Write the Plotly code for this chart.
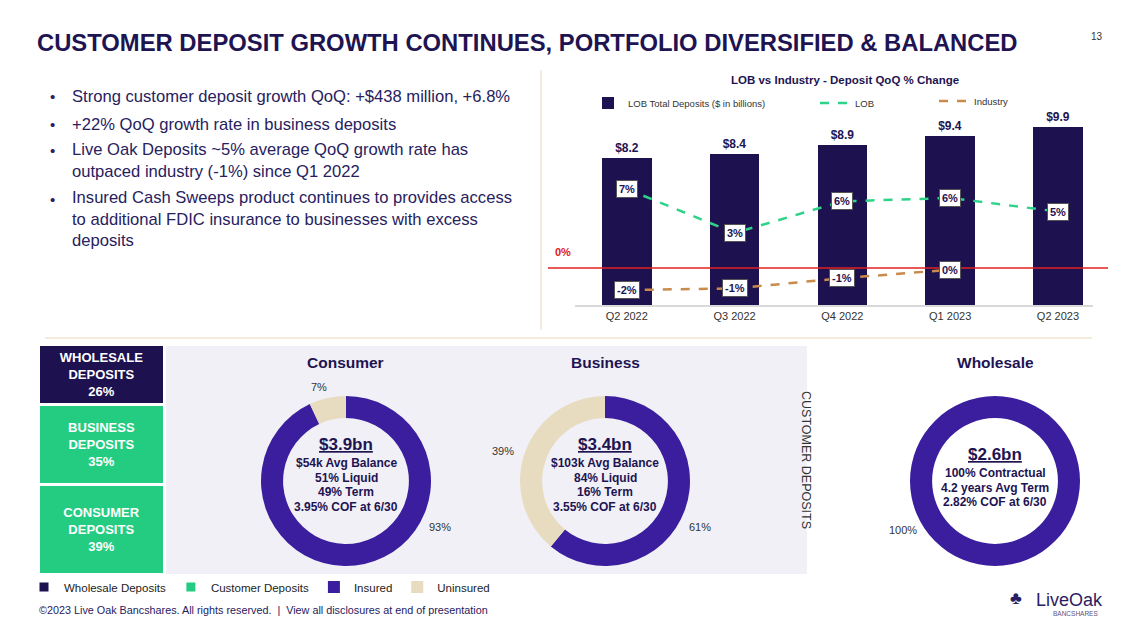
import plotly.graph_objects as go

W, H = 1137, 634
FONT = "Liberation Sans, Arial, sans-serif"
NAVY = "#1e1452"
BAR_NAVY = "#1d1150"
GREEN = "#23cc80"
PURPLE = "#3a1e9e"
BEIGE = "#e8dcc0"
TEXT = "#27215e"

# --- data -------------------------------------------------------------
quarters = ["Q2 2022", "Q3 2022", "Q4 2022", "Q1 2023", "Q2 2023"]
lob_deposits = [8.2, 8.4, 8.9, 9.4, 9.9]
lob_qoq = [7.0, 3.1, 5.9, 6.2, 5.0]
lob_qoq_text = ["7%", "3%", "6%", "6%", "5%"]
industry_quarters = ["Q2 2022", "Q3 2022", "Q4 2022", "Q1 2023"]
industry_qoq = [-1.95, -1.8, -0.9, -0.15]
industry_qoq_text = ["-2%", "-1%", "-1%", "0%"]

mix_names = ["CONSUMER<br>DEPOSITS", "BUSINESS<br>DEPOSITS", "WHOLESALE<br>DEPOSITS"]
mix_values = [39, 35, 26]

insured_labels = ["Insured", "Uninsured"]
consumer_split = [93, 7]
business_split = [61, 39]
wholesale_split = [100, 0]

consumer_total = "$3.9bn"
consumer_lines = ["$54k Avg Balance", "51% Liquid", "49% Term", "3.95% COF at 6/30"]
business_total = "$3.4bn"
business_lines = ["$103k Avg Balance", "84% Liquid", "16% Term", "3.55% COF at 6/30"]
wholesale_total = "$2.6bn"
wholesale_lines = ["100% Contractual", "4.2 years Avg Term", "2.82% COF at 6/30"]

bullets = [
    "Strong customer deposit growth QoQ: +$438 million, +6.8%",
    "+22% QoQ growth rate in business deposits",
    "Live Oak Deposits ~5% average QoQ growth rate has<br>outpaced industry (-1%) since Q1 2022",
    "Insured Cash Sweeps product continues to provides access<br>to additional FDIC insurance to businesses with excess<br>deposits",
]


def px(x):
    return x / W


def py(y):
    return 1 - y / H


fig = go.Figure()

# --- LOB bar + line chart --------------------------------------------
fig.add_trace(go.Bar(
    x=quarters, y=lob_deposits, name="LOB Total Deposits ($ in billions)",
    marker=dict(color=BAR_NAVY, line=dict(width=0)), width=0.46,
    texttemplate="$%{y:.1f}", textposition="outside", cliponaxis=False,
    textfont=dict(family=FONT, size=12, color=NAVY, weight="bold"),
    legend="legend5", showlegend=True, xaxis="x", yaxis="y",
))
fig.add_trace(go.Scatter(
    x=quarters, y=lob_qoq, name="LOB", mode="lines",
    line=dict(color="#2ed38a", width=2.5, dash="dash"),
    legend="legend2", xaxis="x", yaxis="y2",
))
fig.add_trace(go.Scatter(
    x=industry_quarters, y=industry_qoq, name="Industry", mode="lines",
    line=dict(color="#c98a4b", width=2.5, dash="dash"),
    legend="legend3", xaxis="x", yaxis="y2",
))

# --- deposit mix stacked bar -----------------------------------------
mix_colors = [GREEN, GREEN, BAR_NAVY]
mix_legend = [None, "Customer Deposits", "Wholesale Deposits"]
mix_rank = [3, 2, 1]
for name, val, col, leg, rank in zip(mix_names, mix_values, mix_colors, mix_legend, mix_rank):
    fig.add_trace(go.Bar(
        x=["mix"], y=[val], name=leg or name, showlegend=leg is not None,
        marker=dict(color=col, line=dict(color="white", width=3)), width=1,
        text=[f"<b>{name}<br>{val}%</b>"], textposition="inside",
        insidetextanchor="middle", textangle=0,
        textfont=dict(family=FONT, size=13, color="white"),
        legend="legend4", legendrank=rank, xaxis="x3", yaxis="y3", hoverinfo="skip",
    ))

# --- donuts -----------------------------------------------------------
donuts = [
    (consumer_split, 346, True),
    (business_split, 605, False),
    (wholesale_split, 995, False),
]
for split, cx, show in donuts:
    fig.add_trace(go.Pie(
        labels=insured_labels, values=split, hole=0.74, sort=False,
        direction="clockwise", rotation=0, textinfo="none",
        marker=dict(colors=[PURPLE, BEIGE], line=dict(width=0)),
        domain=dict(x=[px(cx - 85), px(cx + 85)], y=[py(566), py(396)]),
        showlegend=show, legend="legend4", legendrank=5,
    ))

ann = []


def note(x, y, text, size=11, color=TEXT, bold=False, xanchor="center", **kw):
    ann.append(dict(
        x=px(x), y=py(y), xref="paper", yref="paper", text=text, showarrow=False,
        xanchor=xanchor, yanchor=kw.pop("yanchor", "middle"), align=kw.pop("align", "center"),
        font=dict(family=FONT, size=size, color=color, weight="bold" if bold else "normal"),
        **kw,
    ))


# header
note(35, 42, "CUSTOMER DEPOSIT GROWTH CONTINUES, PORTFOLIO DIVERSIFIED & BALANCED",
     size=23.8, color=NAVY, bold=True, xanchor="left")
note(1097, 37, "13", size=10, color="#333333")

# bullets
bullet_y = [97, 124, 161, 219]
first_line = [97, 124, 151, 199]
for txt, yc, y1 in zip(bullets, bullet_y, first_line):
    note(52, y1, "•", size=15, color=TEXT)
    note(70, yc, txt, size=16.6, color=TEXT, xanchor="left", align="left")

# bar chart labels
note(845, 80, "LOB vs Industry - Deposit QoQ % Change", size=11.5, color=NAVY, bold=True)
for q, v, t in zip(quarters, lob_qoq, lob_qoq_text):
    ann.append(dict(x=q, y=v, xref="x", yref="y2", text=f"<b>{t}</b>", showarrow=False,
                    bgcolor="white", bordercolor="#555555", borderwidth=1, borderpad=2,
                    font=dict(family=FONT, size=11, color=NAVY)))
for q, v, t in zip(industry_quarters, industry_qoq, industry_qoq_text):
    ann.append(dict(x=q, y=v, xref="x", yref="y2", text=f"<b>{t}</b>", showarrow=False,
                    bgcolor="white", bordercolor="#555555", borderwidth=1, borderpad=2,
                    font=dict(family=FONT, size=11, color=NAVY)))
ann.append(dict(x=px(563), y=0, xref="paper", yref="y2", yshift=16, text="<b>0%</b>",
                showarrow=False, font=dict(family=FONT, size=11, color="#e02020")))

# donut titles / centres
note(345, 362, "Consumer", size=15.5, color=NAVY, bold=True)
note(605, 362, "Business", size=15.5, color=NAVY, bold=True)
note(995, 362, "Wholesale", size=15.5, color=NAVY, bold=True)

for cx, total, lines, top in [(346, consumer_total, consumer_lines, 444),
                              (605, business_total, business_lines, 444),
                              (995, wholesale_total, wholesale_lines, 454)]:
    note(cx, top, f"<u>{total}</u>", size=17, color=NAVY, bold=True)
    for i, line in enumerate(lines):
        note(cx, top + 19 + 14.7 * i, line, size=12, color=NAVY, bold=True)

note(319, 387, f"{consumer_split[1]}%", size=11, color="#333333")
note(440, 527, f"{consumer_split[0]}%", size=11, color="#333333")
note(503, 451, f"{business_split[1]}%", size=11, color="#333333")
note(700, 527, f"{business_split[0]}%", size=11, color="#333333")
note(903, 530, f"{wholesale_split[0]}%", size=11, color="#333333")

note(806, 460, "CUSTOMER DEPOSITS", size=12.5, color="#333333", textangle=90)

# footer and logo
note(37, 610, "©2023 Live Oak Bancshares. All rights reserved.  |  View all disclosures at end of presentation",
     size=10.8, color=TEXT, xanchor="left")
note(1034, 600, "LiveOak", size=18, color="#2b1d63", xanchor="left")
note(1100, 613, "BANCSHARES", size=6.5, color="#5a5080", xanchor="right")
note(1016, 598, "♣", size=18, color="#2b1d63")

shapes = [
    dict(type="rect", xref="paper", yref="paper", x0=px(166), x1=px(807), y0=py(574), y1=py(346),
         fillcolor="#f0f0f6", line=dict(width=0), layer="below"),
    dict(type="line", xref="paper", yref="paper", x0=px(541), x1=px(541), y0=py(70), y1=py(330),
         line=dict(color="#f2e4cf", width=1.5)),
    dict(type="line", xref="paper", yref="paper", x0=px(45), x1=px(1092), y0=py(338), y1=py(338),
         line=dict(color="#f2e4cf", width=1.5)),
    dict(type="line", xref="paper", yref="y2", x0=px(548), x1=px(1108), y0=0, y1=0,
         line=dict(color="#e02020", width=1.5), layer="above"),
]

legend_font = dict(family=FONT, size=9.5, color="#333333")
fig.update_layout(
    width=W, height=H, autosize=False,
    margin=dict(l=0, r=0, t=0, b=0),
    paper_bgcolor="white", plot_bgcolor="rgba(0,0,0,0)",
    font=dict(family=FONT),
    barmode="stack", bargap=0, showlegend=True,
    annotations=ann, shapes=shapes,
    xaxis=dict(domain=[px(575), px(1093)], range=[-0.48, 4.325], showline=True,
               linecolor="#d9d9d9", linewidth=1.5, ticks="", showgrid=False,
               tickfont=dict(family=FONT, size=11, color="#333333"), fixedrange=True),
    yaxis=dict(domain=[py(305), py(95)], range=[0, 11.68], visible=False),
    yaxis2=dict(domain=[py(305), py(95)], range=[-3.27, 15.31], overlaying="y",
                visible=False),
    xaxis3=dict(domain=[px(39), px(165)], range=[-0.5, 0.5], visible=False),
    yaxis3=dict(domain=[py(575), py(345)], range=[0, 100], visible=False),
    legend5=dict(x=px(588), y=py(103), xanchor="left", yanchor="middle", font=legend_font,
                 bgcolor="rgba(0,0,0,0)", itemwidth=30),
    legend2=dict(x=px(815), y=py(103), xanchor="left", yanchor="middle", font=legend_font,
                 bgcolor="rgba(0,0,0,0)", itemwidth=30),
    legend3=dict(x=px(934), y=py(101), xanchor="left", yanchor="middle", font=legend_font,
                 bgcolor="rgba(0,0,0,0)", itemwidth=30),
    legend4=dict(x=px(24), y=py(587), xanchor="left", yanchor="middle", orientation="h",
                 font=dict(family=FONT, size=11.5, color="#222222"), bgcolor="rgba(0,0,0,0)",
                 traceorder="normal", itemwidth=30),
)

fig.write_html("out.html", config={"displayModeBar": False},
               post_script="document.body.style.margin='0';")
